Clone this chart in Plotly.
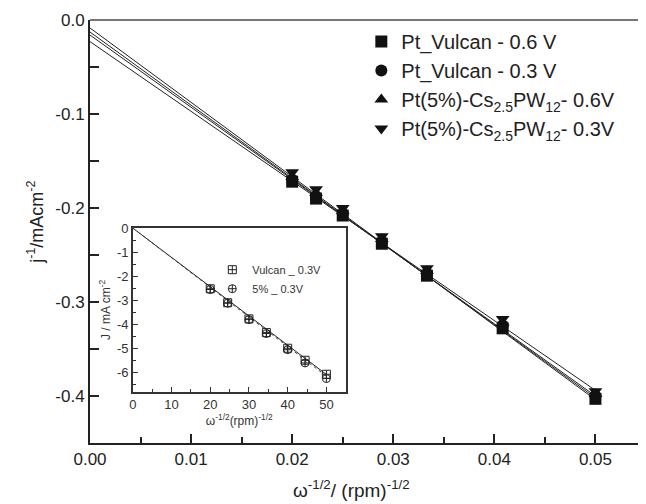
import plotly.graph_objects as go

# main plot: Koutecky-Levich data
omega_inv = [0.02, 0.02236, 0.025, 0.02887, 0.03333, 0.04082, 0.05]
vulcan_06 = [-0.172, -0.190, -0.208, -0.238, -0.272, -0.328, -0.403]
vulcan_03 = [-0.170, -0.188, -0.206, -0.236, -0.270, -0.325, -0.400]
cs_06 = [-0.167, -0.184, -0.203, -0.233, -0.267, -0.322, -0.398]
cs_03 = [-0.162, -0.180, -0.200, -0.230, -0.264, -0.318, -0.395]

# fitted lines, read at x = 0 and x = 0.05
fit_x = [0.0, 0.05]
fit_vulcan_06 = [-0.0085, -0.404]
fit_vulcan_03 = [-0.0128, -0.402]
fit_cs_06 = [-0.016, -0.400]
fit_cs_03 = [-0.023, -0.394]

names = ["Pt_Vulcan - 0.6 V", "Pt_Vulcan - 0.3 V",
         "Pt(5%)-Cs<sub>2.5</sub>PW<sub>12</sub>- 0.6V",
         "Pt(5%)-Cs<sub>2.5</sub>PW<sub>12</sub>- 0.3V"]
symbols = ["square", "circle", "triangle-up", "triangle-down"]

x_ticks = [0, 0.01, 0.02, 0.03, 0.04, 0.05]
x_labels = ["0.00", "0.01", "0.02", "0.03", "0.04", "0.05"]
y_ticks = [-0.4, -0.3, -0.2, -0.1, 0.0]
y_labels = ["-0.4", "-0.3", "-0.2", "-0.1", "0.0"]

# inset: J vs omega^-1/2
inset_x = [20, 24.5, 30, 34.5, 40, 44.5, 50]
inset_vulcan = [-2.52, -3.10, -3.77, -4.34, -4.99, -5.49, -6.07]
inset_5pct = [-2.55, -3.12, -3.80, -4.38, -5.05, -5.60, -6.25]
inset_fit_x = [0, 50]
inset_fit_vulcan = [0, -6.08]
inset_fit_5pct = [0, -6.15]
inset_y_ticks = [-6, -5, -4, -3, -2, -1, 0]
inset_y_labels = ["-6", "-5", "-4", "-3", "-2", "-1", "0"]

fig = go.Figure()

for fy in [fit_vulcan_06, fit_vulcan_03, fit_cs_06, fit_cs_03]:
    fig.add_trace(go.Scatter(x=fit_x, y=fy, mode="lines", showlegend=False,
                             line=dict(color="#222", width=1)))

for ys, nm, sym in zip([vulcan_06, vulcan_03, cs_06, cs_03], names, symbols):
    fig.add_trace(go.Scatter(x=omega_inv, y=ys, mode="markers", name=nm,
                             marker=dict(symbol=sym, size=12, color="#111")))

fig.add_trace(go.Scatter(x=inset_fit_x, y=inset_fit_vulcan, mode="lines", showlegend=False,
                         xaxis="x2", yaxis="y2", line=dict(color="#222", width=1)))
fig.add_trace(go.Scatter(x=inset_fit_x, y=inset_fit_5pct, mode="lines", showlegend=False,
                         xaxis="x2", yaxis="y2", line=dict(color="#444", width=1, dash="dot")))
fig.add_trace(go.Scatter(x=inset_x, y=inset_vulcan, mode="markers", name="Vulcan _ 0.3V",
                         xaxis="x2", yaxis="y2", legend="legend2",
                         marker=dict(symbol="square-cross-open", size=8, color="#222",
                                     line=dict(width=1))))
fig.add_trace(go.Scatter(x=inset_x, y=inset_5pct, mode="markers", name="5% _ 0.3V",
                         xaxis="x2", yaxis="y2", legend="legend2",
                         marker=dict(symbol="circle-cross-open", size=8, color="#222",
                                     line=dict(width=1))))

tick_font = dict(family="Liberation Sans, Arial", size=17, color="#222")
small_font = dict(family="Liberation Sans, Arial", size=12, color="#333")

# the page body adds 8 px on the left and top, so the figure is 8 px smaller
fig.update_layout(
    width=638, height=496,
    margin=dict(l=82, r=0, t=12, b=61),
    plot_bgcolor="white", paper_bgcolor="white",
    font=tick_font,
    xaxis=dict(range=[0, 0.055], tickvals=x_ticks, ticktext=x_labels,
               ticks="inside", ticklen=9, tickwidth=2, tickcolor="#222",
               minor=dict(tickvals=[0.005, 0.015, 0.025, 0.035, 0.045], ticks="inside",
                          ticklen=6, tickwidth=1.5, tickcolor="#222"),
               showline=True, linecolor="#222", linewidth=2, showgrid=False, zeroline=False),
    yaxis=dict(range=[-0.45, 0], tickvals=y_ticks, ticktext=y_labels,
               ticks="inside", ticklen=9, tickwidth=2, tickcolor="#222",
               minor=dict(tickvals=[-0.35, -0.25, -0.15, -0.05], ticks="inside",
                          ticklen=9, tickwidth=1.5, tickcolor="#222"),
               showline=True, linecolor="#222", linewidth=2, showgrid=False, zeroline=False),
    xaxis2=dict(domain=[0.077, 0.46], anchor="y2", range=[0, 55],
                tickvals=[0, 10, 20, 30, 40, 50], ticks="inside", ticklen=5,
                tickcolor="#333", tickfont=dict(size=13, color="#333"),
                minor=dict(tickvals=[5, 15, 25, 35, 45], ticks="inside", ticklen=3,
                           tickcolor="#333"),
                showline=True, linecolor="#333", linewidth=1.5, mirror=True,
                showgrid=False, zeroline=False,
                title=dict(text="ω<sup>-1/2</sup>(rpm)<sup>-1/2</sup>", standoff=2,
                           font=small_font)),
    yaxis2=dict(domain=[0.121, 0.508], anchor="x2", range=[-6.8, 0],
                tickvals=inset_y_ticks, ticktext=inset_y_labels, ticks="inside", ticklen=5,
                tickcolor="#333", tickfont=dict(size=13, color="#333"),
                minor=dict(tickvals=[-6.5, -5.5, -4.5, -3.5, -2.5, -1.5, -0.5],
                           ticks="inside", ticklen=3, tickcolor="#333"),
                showline=True, linecolor="#333", linewidth=1.5, mirror=True,
                showgrid=False, zeroline=False,
                title=dict(text="J / mA cm<sup>-2</sup>", standoff=4, font=small_font)),
    legend=dict(x=0.488, y=0.995, xanchor="left", yanchor="top", bgcolor="rgba(0,0,0,0)",
                font=dict(family="Liberation Sans, Arial", size=20, color="#222"),
                itemsizing="constant", tracegroupgap=0),
    legend2=dict(x=0.22, y=0.444, xanchor="left", yanchor="top", bgcolor="rgba(0,0,0,0)",
                 font=dict(family="Liberation Sans, Arial", size=11, color="#333"),
                 itemwidth=30),
)

# axis titles placed as in the reference
fig.add_annotation(text="j<sup>-1</sup>/mAcm<sup>-2</sup>", xref="paper", yref="paper",
                   x=-0.122, y=0.522, textangle=-90, showarrow=False,
                   font=dict(size=18, color="#222"))
fig.add_annotation(text="ω<sup>-1/2</sup>/ (rpm)<sup>-1/2</sup>", xref="paper", yref="paper",
                   x=0.471, y=-0.142, yanchor="bottom", showarrow=False,
                   font=dict(size=19, color="#222"))

# gray top spine of the main frame
fig.add_shape(type="line", xref="paper", yref="paper", x0=0, x1=1, y0=1, y1=1,
              line=dict(color="#777", width=2))

fig.write_html("out.html")
